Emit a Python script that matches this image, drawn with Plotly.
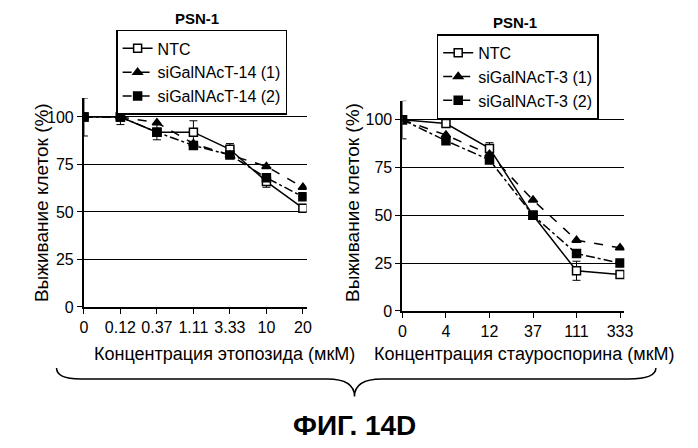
import plotly.graph_objects as go

left_x = ["0", "0.12", "0.37", "1.11", "3.33", "10", "20"]
left_ntc = [100, 100, 92, 92, 83, 66, 52]
left_t1 = [100, 100, 97, 86, 80, 74, 63]
left_t2 = [100, 100, 92, 85, 80, 68, 58]
left_err = [10, 4, 4, 6, 3, 3, 2]

right_x = ["0", "4", "12", "37", "111", "333"]
right_ntc = [100, 98, 85, 50, 21, 19]
right_t1 = [100, 92, 82, 58, 37, 33]
right_t2 = [100, 89, 79, 50, 30, 25]
right_err = [10, 2, 3, 2, 5, 1]

y_ticks = [0, 25, 50, 75, 100]

F = "Liberation Sans"
fig = go.Figure()

def add(xs, ys, name, dash, sym, fill, xa, ya, leg, err=None):
    fig.add_trace(go.Scatter(
        x=list(range(len(xs))), y=ys, name=name, mode="lines+markers",
        line=dict(color="black", width=1.5, dash=dash),
        marker=dict(symbol=sym, size=8, color=fill, line=dict(color="black", width=1.5)),
        error_y=dict(type="data", array=err, color="black", thickness=1, width=4) if err else None,
        xaxis=xa, yaxis=ya, legend=leg))

add(left_x, left_ntc, "NTC", "solid", "square", "white", "x", "y", "legend", left_err)
add(left_x, left_t1, "siGalNAcT-14 (1)", "dash", "triangle-up", "black", "x", "y", "legend")
add(left_x, left_t2, "siGalNAcT-14 (2)", "dashdot", "square", "black", "x", "y", "legend")
add(right_x, right_ntc, "NTC", "solid", "square", "white", "x2", "y2", "legend2", right_err)
add(right_x, right_t1, "siGalNAcT-3 (1)", "dash", "triangle-up", "black", "x2", "y2", "legend2")
add(right_x, right_t2, "siGalNAcT-3 (2)", "dashdot", "square", "black", "x2", "y2", "legend2")

axcommon = dict(showline=True, linecolor="black", linewidth=2, ticks="outside",
                tickcolor="black", ticklen=5, tickfont=dict(size=16, color="black", family=F),
                zeroline=False)
fig.update_layout(
    width=698, height=448, margin=dict(l=0, r=0, t=0, b=0),
    paper_bgcolor="white", plot_bgcolor="white", font=dict(family=F, color="black"),
    xaxis=dict(domain=[0.105, 0.43], range=[0, 6.1], tickvals=list(range(len(left_x))),
               ticktext=left_x, showgrid=False, **axcommon),
    yaxis=dict(domain=[0.319, 0.795], range=[0, 110], tickvals=y_ticks, showgrid=True,
               gridcolor="black", gridwidth=1, **axcommon),
    xaxis2=dict(domain=[0.57, 0.894], range=[0, 5.1], tickvals=list(range(len(right_x))),
                ticktext=right_x, showgrid=False, anchor="y2", **axcommon),
    yaxis2=dict(domain=[0.310, 0.789], range=[0, 110], tickvals=y_ticks, showgrid=True,
                gridcolor="black", gridwidth=1, anchor="x2", **axcommon),
    legend=dict(x=0.152, y=0.95, xanchor="left", yanchor="top", bordercolor="black",
                borderwidth=1.5, bgcolor="white", font=dict(size=16, family=F),
                tracegroupgap=0, itemwidth=30),
    legend2=dict(x=0.62, y=0.94, xanchor="left", yanchor="top", bordercolor="black",
                 borderwidth=1.5, bgcolor="white", font=dict(size=16, family=F),
                 tracegroupgap=0, itemwidth=30),
)
ann = [
    dict(x=0.27, y=0.975, text="<b>PSN-1</b>", size=15),
    dict(x=0.735, y=0.968, text="<b>PSN-1</b>", size=15),
    dict(x=0.31, y=0.212, text="Концентрация этопозида (мкМ)", size=18),
    dict(x=0.748, y=0.212, text="Концентрация стауроспорина (мкМ)", size=18),
    dict(x=0.5, y=0.05, text="<b>ФИГ. 14D</b>", size=28),
]
for a in ann:
    fig.add_annotation(x=a["x"], y=a["y"], xref="paper", yref="paper", text=a["text"],
                       xanchor="center", yanchor="middle", showarrow=False,
                       font=dict(size=a["size"], family=F, color="black"))
fig.add_annotation(x=0.025, y=0.557, xref="paper", yref="paper", text="Выживание клеток (%)",
                   textangle=-90, showarrow=False, font=dict(size=19, family=F))
fig.add_annotation(x=0.497, y=0.557, xref="paper", yref="paper", text="Выживание клеток (%)",
                   textangle=-90, showarrow=False, font=dict(size=19, family=F))
# curly brace
fig.add_shape(type="path", xref="paper", yref="paper",
              path="M 0.065 0.18 Q 0.065 0.155 0.1 0.155 L 0.46 0.155 Q 0.5 0.155 0.5 0.115 "
                   "Q 0.5 0.155 0.54 0.155 L 0.9 0.155 Q 0.94 0.155 0.94 0.18",
              line=dict(color="black", width=1.5))
fig.write_html("out.html")
